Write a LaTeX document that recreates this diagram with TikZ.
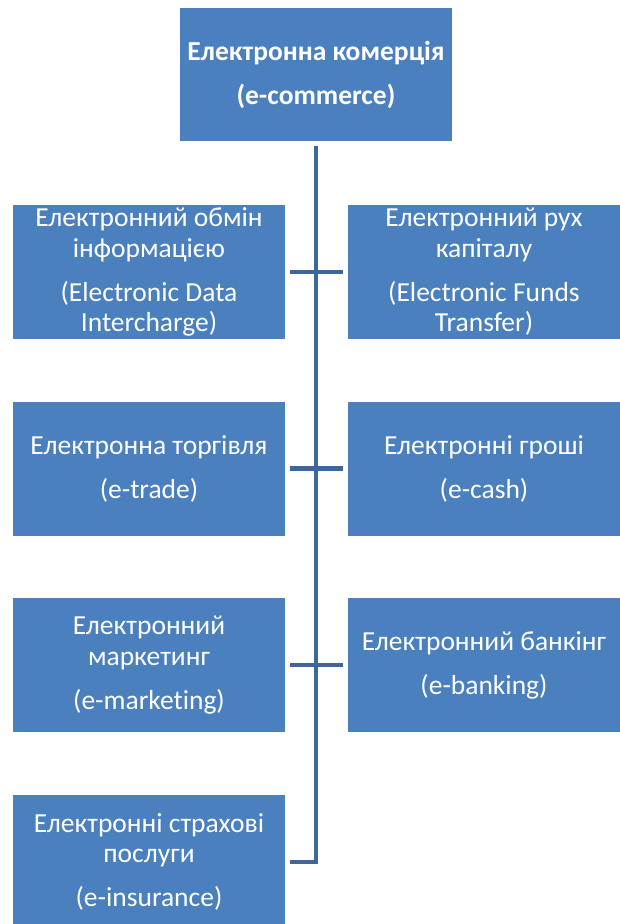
\documentclass[tikz,border=0pt]{standalone}
\usepackage{fontspec}
\setmainfont{Carlito}[Ligatures=CommonOff]
\usetikzlibrary{calc}
\definecolor{boxblue}{HTML}{4A80BE}
\definecolor{lineblue}{HTML}{3D679C}
\begin{document}
\begin{tikzpicture}[x=1pt,y=-1pt,
  box/.style={draw=none, fill=boxblue, text=white, minimum width=272pt, minimum height=134pt,
    inner sep=0pt, align=center, font=\fontsize{27.5}{30.5}\selectfont},
  conn/.style={draw=lineblue, line width=4.8pt}]
\useasboundingbox (0,0) rectangle (619,924);
\node[box, minimum height=133pt, font=\fontsize{27.5}{30.5}\selectfont\bfseries] (top) at (316,74.5)
  {Електронна комерція\\[13.5pt](e-commerce)};
\node[box] (L1) at (149,272) {Електронний обмін\\інформацією\\[13.5pt](Electronic Data\\Intercharge)};
\node[box] (R1) at (484,272) {Електронний рух\\капіталу\\[13.5pt](Electronic Funds\\Transfer)};
\node[box] (L2) at (149,468.5) {Електронна торгівля\\[13.5pt](e-trade)};
\node[box] (R2) at (484,468.5) {Електронні гроші\\[13.5pt](e-cash)};
\node[box] (L3) at (149,665) {Електронний\\маркетинг\\[13.5pt](e-marketing)};
\node[box] (R3) at (484,665) {Електронний банкінг\\[13.5pt](e-banking)};
\node[box] (L4) at (149,862) {Електронні страхові\\послуги\\[13.5pt](e-insurance)};
\draw[conn] ($(top.south)+(0,5)$) |- ($(L4.east)+(5,0)$);
\draw[conn] ($(L1.east)+(5,0)$) -- ($(R1.west)+(-5,0)$);
\draw[conn] ($(L2.east)+(5,0)$) -- ($(R2.west)+(-5,0)$);
\draw[conn] ($(L3.east)+(5,0)$) -- ($(R3.west)+(-5,0)$);
\end{tikzpicture}
\end{document}
